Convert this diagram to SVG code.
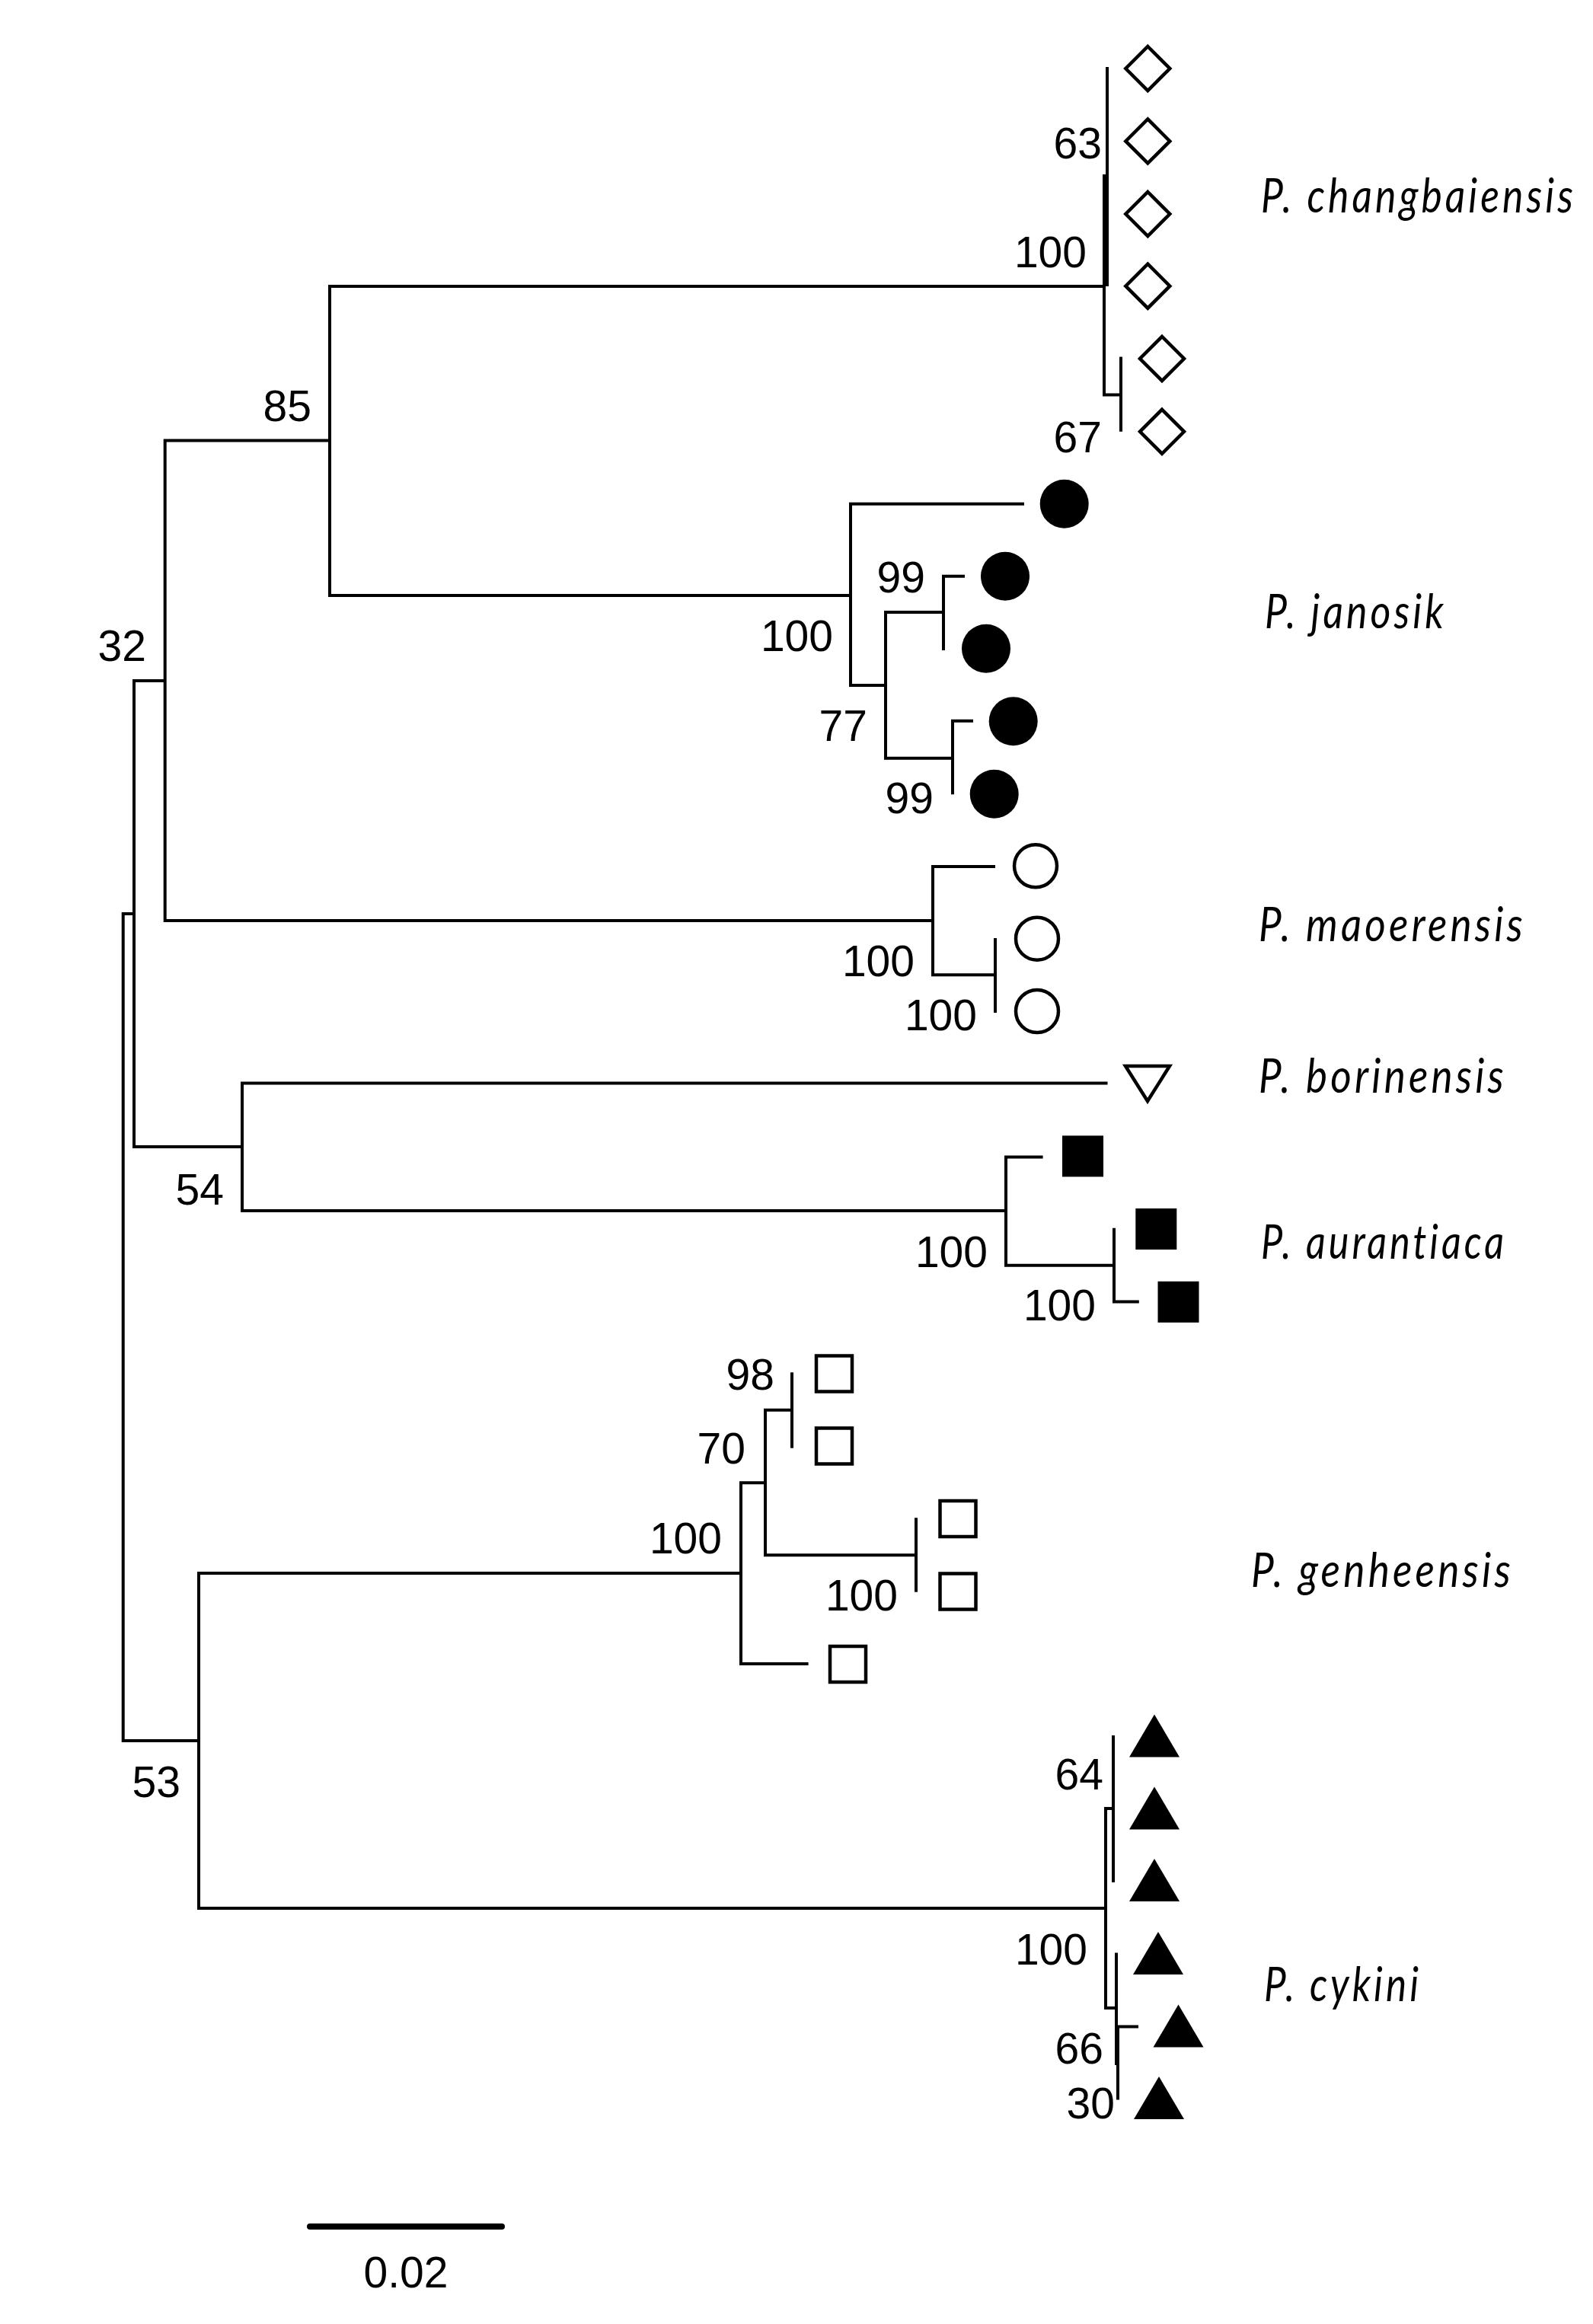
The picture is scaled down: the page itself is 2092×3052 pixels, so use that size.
<svg xmlns="http://www.w3.org/2000/svg" xmlns:xlink="http://www.w3.org/1999/xlink" width="2092" height="3052" viewBox="0 0 2092 3052">
<style>
.br{fill:none;stroke:#000;stroke-width:4;stroke-linecap:butt;stroke-linejoin:miter}
.sup{font-family:"Liberation Sans",Arial,sans-serif;font-size:57px;text-anchor:end;fill:#000}
.sp{font-family:Lato,"Open Sans",sans-serif;font-style:italic;font-weight:400;font-size:63px;letter-spacing:5px;fill:#000}
.open{fill:#fff;stroke:#000;stroke-width:4.5;stroke-linejoin:miter}
.solid{fill:#000}
</style>
<defs>
<path id="dia" d="M0,-29 L29,0 L0,29 L-29,0 Z"/>
<path id="tri" d="M0,-28 L33,28 L-33,28 Z"/>
<rect id="osq" x="-23.5" y="-23.5" width="47" height="47"/>
<rect id="fsq" x="-27" y="-27" width="54" height="54"/>
</defs>
<rect width="2092" height="3052" fill="#fff"/>

<g id="connectors">
<path class="br" d="M176 1200 H161.7 V2286 H261"/>
<path class="br" d="M216.7 894 H176 V1506 H318"/>
<path class="br" d="M433 578.6 H216.7 V1209 H1225"/>
<path class="br" d="M1450 376 H433 V782 H1117"/>
<path class="br" d="M1454 231 H1450 V518.6 H1472"/>
<path class="br" d="M1454 88 V376"/>
<path class="br" d="M1472 468.6 V566.8"/>
<path class="br" d="M1345 661.7 H1117 V900 H1163"/>
<path class="br" d="M1239 804 H1163 V995.7 H1251"/>
<path class="br" d="M1267 756.7 H1239 V854"/>
<path class="br" d="M1278 946.7 H1251 V1043.3"/>
<path class="br" d="M1307 1138 H1225 V1280.3 H1307"/>
<path class="br" d="M1307 1232 V1330"/>
<path class="br" d="M1454.5 1422.5 H318 V1590 H1321"/>
<path class="br" d="M1369.6 1519.6 H1321 V1661.8 H1463"/>
<path class="br" d="M1463 1612.8 V1709.5 H1495.8"/>
<path class="br" d="M973 2066 H261 V2506 H1452"/>
<path class="br" d="M1005 1947.3 H973 V2185 H1061.6"/>
<path class="br" d="M1040 1851.7 H1005 V2042.3 H1203"/>
<path class="br" d="M1040 1802.3 V1901.7"/>
<path class="br" d="M1203 1993.3 V2090.7"/>
<path class="br" d="M1462 2375 H1452 V2637 H1466"/>
<path class="br" d="M1462 2279 V2472"/>
<path class="br" d="M1466 2564.6 V2710 H1468"/>
<path class="br" d="M1468 2661.5 V2757.5 M1468 2661.5 H1495"/>
</g>

<g id="changbaiensis-tips" class="open">
<g id="cb1"><use xlink:href="#dia" x="1507.3" y="90"/></g>
<g id="cb2"><use xlink:href="#dia" x="1507.3" y="185.4"/></g>
<g id="cb3"><use xlink:href="#dia" x="1507.3" y="281"/></g>
<g id="cb4"><use xlink:href="#dia" x="1507.3" y="375.7"/></g>
<g id="cb5"><use xlink:href="#dia" x="1526" y="471"/></g>
<g id="cb6"><use xlink:href="#dia" x="1526" y="566.8"/></g>
</g>

<g id="janosik-tips" class="solid">
<g id="ja1"><circle cx="1397.7" cy="661.7" r="32"/></g>
<g id="ja2"><circle cx="1320" cy="756.7" r="32"/></g>
<g id="ja3"><circle cx="1295" cy="851.7" r="32"/></g>
<g id="ja4"><circle cx="1330.7" cy="947.3" r="32"/></g>
<g id="ja5"><circle cx="1305.7" cy="1042.7" r="32"/></g>
</g>

<g id="maoerensis-tips" class="open">
<g id="ma1"><circle cx="1360" cy="1137.3" r="28"/></g>
<g id="ma2"><circle cx="1362" cy="1232.7" r="28"/></g>
<g id="ma3"><circle cx="1362" cy="1328" r="28"/></g>
</g>

<g id="borinensis-tip" class="open">
<g id="bo1"><path d="M1478 1400 L1536 1400 L1507 1446 Z"/></g>
</g>

<g id="aurantiaca-tips" class="solid">
<g id="au1"><use xlink:href="#fsq" x="1422" y="1518.4"/></g>
<g id="au2"><use xlink:href="#fsq" x="1518.3" y="1614"/></g>
<g id="au3"><use xlink:href="#fsq" x="1547.5" y="1709.8"/></g>
</g>

<g id="genheensis-tips" class="open">
<g id="ge1"><use xlink:href="#osq" x="1095.5" y="1804"/></g>
<g id="ge2"><use xlink:href="#osq" x="1095.5" y="1899"/></g>
<g id="ge3"><use xlink:href="#osq" x="1258" y="1994.5"/></g>
<g id="ge4"><use xlink:href="#osq" x="1258" y="2090"/></g>
<g id="ge5"><use xlink:href="#osq" x="1113.5" y="2185.5"/></g>
</g>

<g id="cykini-tips" class="solid">
<g id="cy1"><use xlink:href="#tri" x="1516" y="2279.5"/></g>
<g id="cy2"><use xlink:href="#tri" x="1516" y="2374.4"/></g>
<g id="cy3"><use xlink:href="#tri" x="1516" y="2469"/></g>
<g id="cy4"><use xlink:href="#tri" x="1521" y="2565"/></g>
<g id="cy5"><use xlink:href="#tri" x="1547.5" y="2660.6"/></g>
<g id="cy6"><use xlink:href="#tri" x="1522" y="2755"/></g>
</g>

<g id="support-values" class="sup">
<text x="1447" y="208">63</text>
<text x="1427" y="351">100</text>
<text x="1447" y="594">67</text>
<text x="409" y="553">85</text>
<text x="192" y="868">32</text>
<text x="1215" y="778">99</text>
<text x="1094" y="855">100</text>
<text x="1139" y="973">77</text>
<text x="1226" y="1068">99</text>
<text x="1201" y="1282">100</text>
<text x="1283" y="1353">100</text>
<text x="294" y="1582">54</text>
<text x="1297" y="1664">100</text>
<text x="1439" y="1734">100</text>
<text x="1017" y="1825">98</text>
<text x="979" y="1922">70</text>
<text x="948" y="2040">100</text>
<text x="1179" y="2115">100</text>
<text x="237" y="2360">53</text>
<text x="1449" y="2350">64</text>
<text x="1428" y="2580">100</text>
<text x="1449" y="2710">66</text>
<text x="1464" y="2782">30</text>
</g>

<g id="species-labels" class="sp">
<g id="lab-changbaiensis" transform="translate(1656 279) scale(0.8 1)"><text x="0" y="0" textLength="517.5" lengthAdjust="spacingAndGlyphs">P. changbaiensis</text></g>
<g id="lab-janosik" transform="translate(1661 825) scale(0.8 1)"><text x="0" y="0" textLength="298.75" lengthAdjust="spacingAndGlyphs">P. janosik</text></g>
<g id="lab-maoerensis" transform="translate(1653 1236) scale(0.8 1)"><text x="0" y="0" textLength="438.75" lengthAdjust="spacingAndGlyphs">P. maoerensis</text></g>
<g id="lab-borinensis" transform="translate(1653 1435) scale(0.8 1)"><text x="0" y="0" textLength="407.5" lengthAdjust="spacingAndGlyphs">P. borinensis</text></g>
<g id="lab-aurantiaca" transform="translate(1656 1653) scale(0.8 1)"><text x="0" y="0" textLength="403.75" lengthAdjust="spacingAndGlyphs">P. aurantiaca</text></g>
<g id="lab-genheensis" transform="translate(1643 2084) scale(0.8 1)"><text x="0" y="0" textLength="431.25" lengthAdjust="spacingAndGlyphs">P. genheensis</text></g>
<g id="lab-cykini" transform="translate(1660 2628) scale(0.8 1)"><text x="0" y="0" textLength="258.75" lengthAdjust="spacingAndGlyphs">P. cykini</text></g>
</g>

<g id="scale-bar">
<path d="M407 2924 H659" fill="none" stroke="#000" stroke-width="8" stroke-linecap="round"/>
<text x="533" y="3004" font-family="'Liberation Sans',Arial,sans-serif" font-size="57" text-anchor="middle">0.02</text>
</g>
</svg>
